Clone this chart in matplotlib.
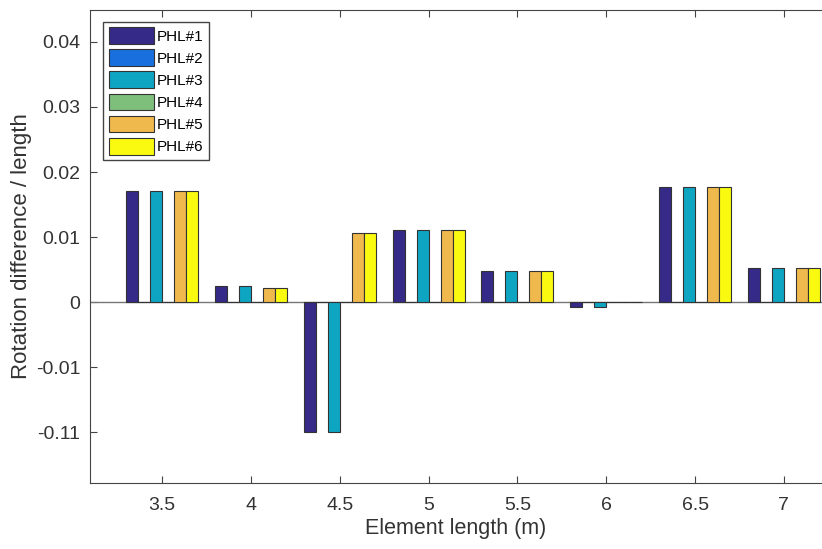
import numpy as np
import matplotlib.pyplot as plt

plt.rcParams['font.family'] = ['Liberation Sans', 'DejaVu Sans']

# element lengths (m)
lengths = [3.5, 4.0, 4.5, 5.0, 5.5, 6.0, 6.5, 7.0]
series_names = ['PHL#1', 'PHL#2', 'PHL#3', 'PHL#4', 'PHL#5', 'PHL#6']

phl1 = [0.0171, 0.0025, -0.11, 0.0111, 0.0048, -0.0008, 0.0177, 0.0052]
phl2 = [0, 0, 0, 0, 0, 0, 0, 0]
phl3 = [0.0171, 0.0025, -0.11, 0.0111, 0.0048, -0.0008, 0.0177, 0.0052]
phl4 = [0, 0, 0, 0, 0, 0, 0, 0]
phl5 = [0.0171, 0.0021, 0.0106, 0.0111, 0.0048, 0, 0.0177, 0.0052]
phl6 = [0.0171, 0.0021, 0.0106, 0.0111, 0.0048, 0, 0.0177, 0.0052]

colors = ['#352a87', '#1a6fdf', '#0ea5c2', '#7dbf7b', '#efb94d', '#fafa10']

ytick_vals = [-0.11, -0.01, 0, 0.01, 0.02, 0.03, 0.04]
ytick_labels = ['-0.11', '-0.01', '0', '0.01', '0.02', '0.03', '0.04']


# broken axis: values below -0.01 are squeezed (-0.11 sits where -0.02 would)
def squeeze(v):
    v = np.asarray(v, dtype=float)
    return np.where(v < -0.01, -0.01 + (v + 0.01) * 0.1, v)


fig = plt.figure(figsize=(8.22, 5.49), dpi=100)
ax = fig.add_axes([90 / 822, 66 / 549, 732 / 822, 473 / 549])

x = np.array(lengths)
w = 0.0675
all_series = [phl1, phl2, phl3, phl4, phl5, phl6]
for i, (vals, name) in enumerate(zip(all_series, series_names)):
    ax.bar(x + (i - 2.5) * w, squeeze(vals), width=w, color=colors[i],
           edgecolor='#333333', linewidth=0.8, label=name, zorder=3)

ax.axhline(0, color='#777777', linewidth=1.0, zorder=2)

ax.set_xlim(3.095, 3.095 + 732 / 177.7)
ax.set_ylim(-0.0278, 0.0449)
ax.set_xticks(lengths)
ax.set_xticklabels(['3.5', '4', '4.5', '5', '5.5', '6', '6.5', '7'])
ax.set_yticks(squeeze(ytick_vals))
ax.set_yticklabels(ytick_labels)

ax.tick_params(direction='in', top=True, right=False, length=5,
               labelsize=14, colors='#444444', labelcolor='#333333')
ax.tick_params(axis='x', pad=10)
ax.tick_params(axis='y', pad=7)
for s in ['left', 'bottom', 'top']:
    ax.spines[s].set_color('#444444')
ax.spines['right'].set_visible(False)

ax.set_xlabel('Element length (m)', fontsize=15.5, color='#333333', labelpad=3)
ax.set_ylabel('Rotation difference / length', fontsize=16, color='#333333',
              labelpad=3)

leg = ax.legend(loc='upper left', bbox_to_anchor=(0.018, 0.975), fontsize=11,
                handlelength=3.0, handleheight=1.3, handletextpad=0.15,
                labelspacing=0.36, borderpad=0.35, borderaxespad=0,
                fancybox=False, framealpha=1)
leg.get_frame().set_edgecolor('#444444')

fig.savefig('out.png', dpi=100)
